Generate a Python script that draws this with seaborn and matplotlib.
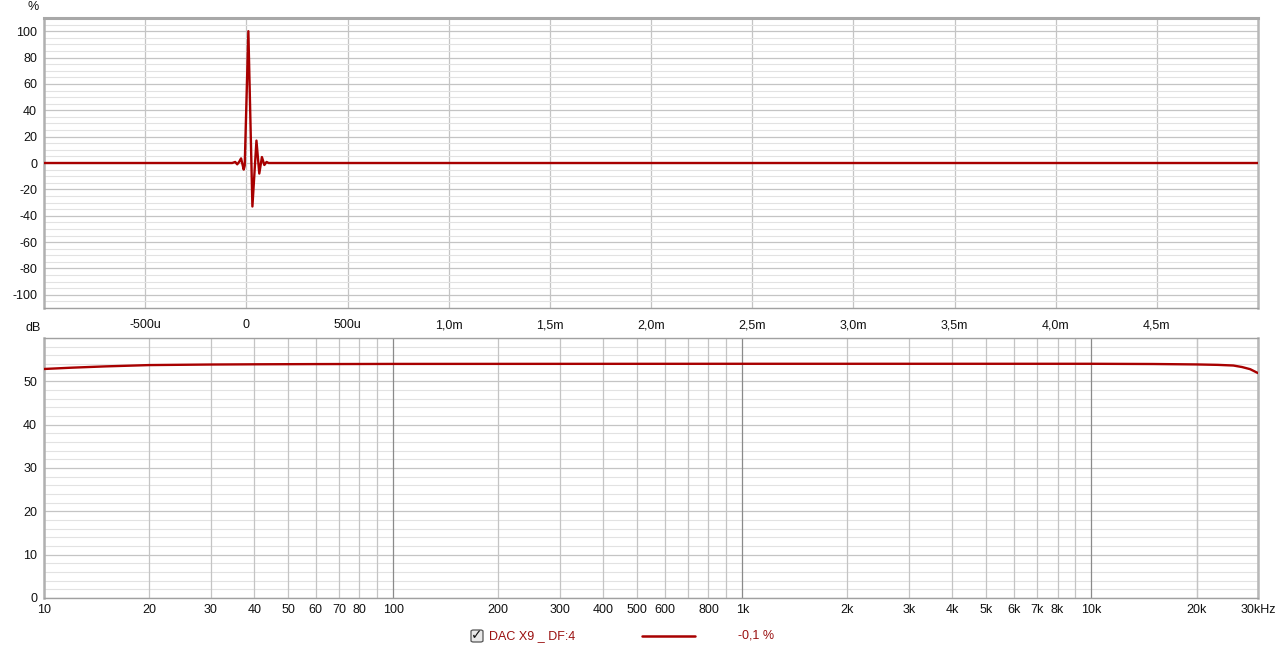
import numpy as np
import pandas as pd
import matplotlib
matplotlib.use("Agg")
import matplotlib.pyplot as plt
import seaborn as sns
from matplotlib.ticker import FixedLocator, MultipleLocator, NullFormatter
from matplotlib.patches import FancyBboxPatch
from matplotlib.lines import Line2D

# ---------------- data ----------------
time_us = [-1000, -70, -55, -45, -35, -26, -13, -8, 10, 30, 50, 64, 77, 89, 100, 110, 5000]
impulse_pct = [0, 0, 0.8, -1.0, 1.0, 3.5, -5.0, -2.0, 100, -33, 17, -8, 4.5, -1.5, 0.8, 0, 0]

freq_hz = [10, 12, 15, 20, 30, 40, 60, 100, 1000, 10000, 15000, 20000, 23000, 25500, 27000, 28500, 30000]
level_db = [52.85, 53.15, 53.45, 53.75, 53.88, 53.93, 53.98, 54.02, 54.05, 54.05, 54.0, 53.9, 53.8, 53.65, 53.3, 52.8, 51.9]

time_ticks_us = [-500, 0, 500, 1000, 1500, 2000, 2500, 3000, 3500, 4000, 4500]
time_tick_labels = ["-500u", "0", "500u", "1,0m", "1,5m", "2,0m", "2,5m", "3,0m", "3,5m", "4,0m", "4,5m"]
pct_ticks = [-100, -80, -60, -40, -20, 0, 20, 40, 60, 80, 100]

freq_grid = [m * 10 ** e for e in range(1, 5) for m in range(1, 10) if m * 10 ** e <= 30000] + [20000, 30000]
freq_label_ticks = [10, 20, 30, 40, 50, 60, 70, 80, 100, 200, 300, 400, 500, 600, 800,
                    1000, 2000, 3000, 4000, 5000, 6000, 7000, 8000, 10000, 20000, 30000]
freq_label_text = ["10", "20", "30", "40", "50", "60", "70", "80", "100", "200", "300", "400", "500", "600", "800",
                   "1k", "2k", "3k", "4k", "5k", "6k", "7k", "8k", "10k", "20k", "30kHz"]
db_ticks = [0, 10, 20, 30, 40, 50]

legend_name = "DAC X9 _ DF:4"
legend_value = "-0,1 %"

# ---------------- style ----------------
sns.set_theme(style="white")
plt.rcParams['font.family'] = ['Liberation Sans', 'DejaVu Sans']
plt.rcParams['axes.unicode_minus'] = False

RED = "#a80000"
MAJ = "#c4c4c4"
MIN = "#e2e2e2"
DEC = "#8a8a8a"
FS = 9

fig = plt.figure(figsize=(12.8, 6.51), dpi=100)
W, H = 1280, 651
ax1 = fig.add_axes([44 / W, 1 - 308 / H, 1214 / W, 290 / H])
ax2 = fig.add_axes([44 / W, 1 - 598 / H, 1214 / W, 260 / H])

# ---------------- top: impulse ----------------
df1 = pd.DataFrame({"t": time_us, "v": impulse_pct})
sns.lineplot(data=df1, x="t", y="v", ax=ax1, color=RED, lw=1.7, zorder=5)
ax1.set_xlim(-1000, 5000)
ax1.set_ylim(-110, 110)
ax1.xaxis.set_major_locator(FixedLocator(time_ticks_us))
ax1.set_xticklabels(time_tick_labels)
ax1.yaxis.set_major_locator(FixedLocator(pct_ticks))
ax1.yaxis.set_minor_locator(MultipleLocator(5))
ax1.grid(which="major", axis="both", color=MAJ, lw=0.9, zorder=0)
ax1.grid(which="minor", axis="y", color=MIN, lw=0.8, zorder=0)
ax1.set_axisbelow(True)
ax1.set_xlabel("")
ax1.set_ylabel("")
ax1.tick_params(axis="x", length=0, pad=8, labelsize=FS, colors="#111111")
ax1.tick_params(axis="y", length=0, pad=5, labelsize=FS, colors="#111111")
ax1.tick_params(which="minor", length=0)

# ---------------- bottom: frequency response ----------------
df2 = pd.DataFrame({"f": freq_hz, "db": level_db})
sns.lineplot(data=df2, x="f", y="db", ax=ax2, color=RED, lw=1.7, zorder=5)
ax2.set_xscale("log")
ax2.set_xlim(10, 30000)
ax2.set_ylim(0, 60)
for f in freq_grid:
    ax2.axvline(f, color=DEC if f in (100, 1000, 10000) else MAJ, lw=0.9, zorder=1)
ax2.xaxis.set_major_locator(FixedLocator(freq_label_ticks))
ax2.set_xticklabels(freq_label_text)
ax2.xaxis.set_minor_formatter(NullFormatter())
ax2.xaxis.set_minor_locator(FixedLocator([]))
ax2.yaxis.set_major_locator(FixedLocator(db_ticks))
ax2.yaxis.set_minor_locator(MultipleLocator(2))
ax2.grid(which="major", axis="y", color=MAJ, lw=0.9, zorder=0)
ax2.grid(which="minor", axis="y", color=MIN, lw=0.8, zorder=0)
ax2.set_axisbelow(True)
ax2.set_xlabel("")
ax2.set_ylabel("")
ax2.tick_params(axis="x", length=0, pad=4, labelsize=FS, colors="#111111")
ax2.tick_params(axis="y", length=0, pad=5, labelsize=FS, colors="#111111")
ax2.tick_params(which="minor", length=0)

for ax in (ax1, ax2):
    for s in ax.spines.values():
        s.set_color("#a0a0a0")
        s.set_linewidth(1.0)
    ax.spines["left"].set_linewidth(1.8)
    ax.spines["left"].set_color("#b0b0b0")
ax1.spines["top"].set_linewidth(2.2)
ax1.spines["top"].set_color("#a8a8a8")
ax1.spines["right"].set_linewidth(1.8)
ax1.spines["right"].set_color("#b8b8b8")
ax2.spines["right"].set_linewidth(1.8)
ax2.spines["right"].set_color("#b8b8b8")

# axis unit labels
fig.text(33 / W, 1 - 7 / H, "%", ha="center", va="center", fontsize=FS, color="#111111")
fig.text(33 / W, 1 - 328 / H, "dB", ha="center", va="center", fontsize=FS, color="#111111")

# ---------------- legend row ----------------
ly = 1 - 636 / H
box = FancyBboxPatch((471 / W, 1 - 642 / H), 12 / W, 12 / H, boxstyle="round,pad=0,rounding_size=0.002",
                     transform=fig.transFigure, facecolor="#e8e8e8", edgecolor="#555555", lw=0.9)
fig.patches.append(box)
fig.text(477 / W, ly + 0.001, "\u2713", ha="center", va="center", fontsize=10, color="#111111",
         family=["DejaVu Sans"], fontweight="bold")
fig.text(489 / W, ly, legend_name, ha="left", va="center", fontsize=FS, color="#9a1010")
fig.add_artist(Line2D([642 / W, 695 / W], [ly, ly], transform=fig.transFigure, color=RED, lw=1.8))
fig.text(738 / W, ly, legend_value, ha="left", va="center", fontsize=FS, color="#9a1010")

fig.savefig("out.png", dpi=100, facecolor="white")
